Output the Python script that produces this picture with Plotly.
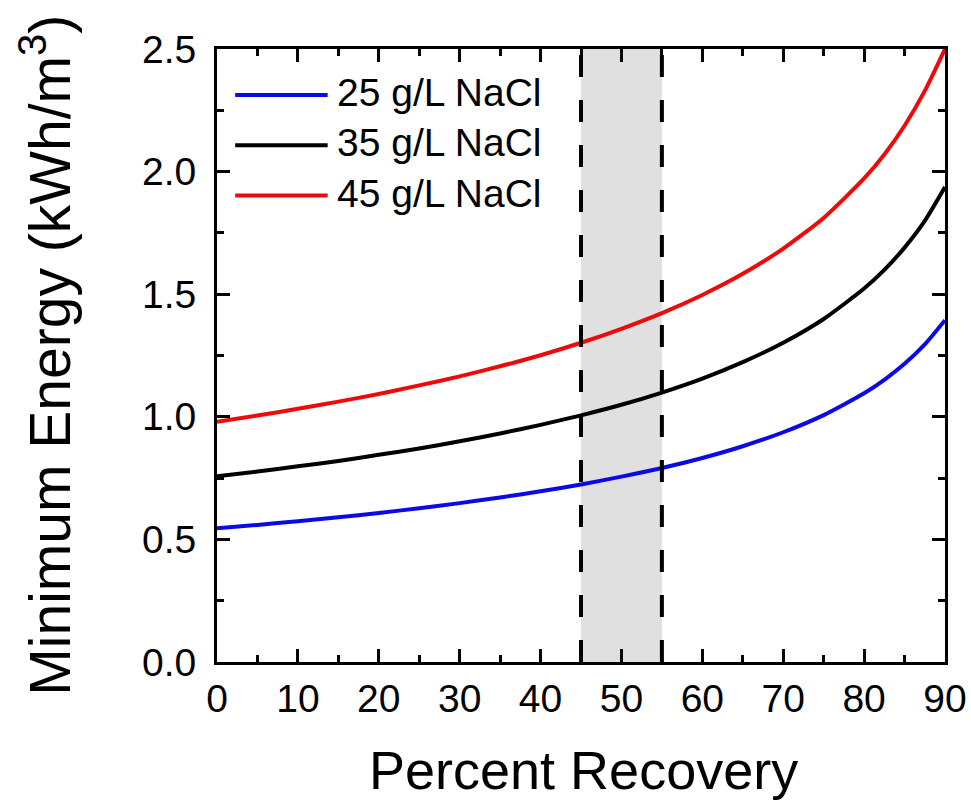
import plotly.graph_objects as go

# ---- data ----
recovery = [0, 5, 10, 15, 20, 25, 30, 35, 40, 45, 50, 55, 60, 65, 70, 75, 80, 82.5, 85, 87.5, 90]
energy_25 = [0.545, 0.559, 0.574, 0.590, 0.608, 0.627, 0.648, 0.671, 0.696, 0.724, 0.756,
             0.791, 0.832, 0.880, 0.937, 1.007, 1.096, 1.151, 1.216, 1.295, 1.394]
energy_35 = [0.757, 0.777, 0.798, 0.820, 0.845, 0.871, 0.900, 0.932, 0.967, 1.006, 1.049,
             1.099, 1.156, 1.223, 1.302, 1.399, 1.523, 1.599, 1.690, 1.799, 1.937]
energy_45 = [0.980, 1.005, 1.033, 1.062, 1.093, 1.128, 1.165, 1.206, 1.251, 1.302, 1.359,
             1.423, 1.497, 1.583, 1.686, 1.811, 1.972, 2.070, 2.187, 2.329, 2.500]
series_names = ["25 g/L NaCl", "35 g/L NaCl", "45 g/L NaCl"]
series_colors = ["#0a0ae6", "#000000", "#ee0a0a"]
region_start = 45
region_end = 55
x_ticks = [0, 10, 20, 30, 40, 50, 60, 70, 80, 90]
y_ticks = [0.0, 0.5, 1.0, 1.5, 2.0, 2.5]

FONT = "Liberation Sans, Arial, sans-serif"

fig = go.Figure()

for name, vals, col in zip(series_names, [energy_25, energy_35, energy_45], series_colors):
    fig.add_trace(go.Scatter(x=recovery, y=vals, mode="lines", name=name,
                             line=dict(color=col, width=4, shape="spline", smoothing=0.6),
                             showlegend=False))

# shaded region and dashed boundaries
fig.add_shape(type="rect", xref="x", yref="y domain", x0=region_start, x1=region_end,
              y0=0, y1=1, fillcolor="#e0e0e0", line=dict(width=0), layer="below")
for xv in (region_start, region_end):
    fig.add_shape(type="line", xref="x", yref="y domain", x0=xv, x1=xv, y0=0, y1=1,
                  line=dict(color="black", width=4, dash="22px,23px"), layer="above")

# manual legend
leg_y = [0.925, 0.843, 0.761]
for name, col, yy in zip(series_names, series_colors, leg_y):
    fig.add_shape(type="line", xref="paper", yref="paper", x0=0.025, x1=0.152, y0=yy, y1=yy,
                  line=dict(color=col, width=4))
    fig.add_annotation(xref="paper", yref="paper", x=0.162, y=yy + 0.004, text=name,
                       showarrow=False, xanchor="left", yanchor="middle",
                       font=dict(family=FONT, size=39, color="black"))

# axis titles
fig.add_annotation(xref="paper", yref="paper", x=-0.236, y=0.5,
                   text="Minimum Energy (kWh/m<sup>3</sup>)", textangle=-90,
                   showarrow=False, xanchor="center", yanchor="middle",
                   font=dict(family=FONT, size=57, color="black"))
fig.add_annotation(xref="paper", yref="paper", x=0.504, y=-0.176,
                   text="Percent Recovery", showarrow=False,
                   xanchor="center", yanchor="middle",
                   font=dict(family=FONT, size=54, color="black"))

axis_common = dict(showline=True, linewidth=3, linecolor="black", mirror="ticks",
                   ticks="inside", ticklen=13, tickwidth=3, tickcolor="black",
                   showgrid=False, zeroline=False, automargin=False,
                   tickfont=dict(family=FONT, size=39, color="black"))

fig.update_xaxes(range=[0, 90], tickvals=x_ticks, ticklabelstandoff=0,
                 minor=dict(ticks="inside", ticklen=7, tickwidth=3, tickcolor="black", dtick=5),
                 **axis_common)
fig.update_yaxes(range=[0, 2.5], tickvals=y_ticks, tickformat=".1f", ticklabelstandoff=10,
                 minor=dict(ticks="inside", ticklen=7, tickwidth=3, tickcolor="black", dtick=0.25),
                 **axis_common)

fig.update_layout(width=971, height=806, margin=dict(l=217, r=26, t=49, b=144, autoexpand=False),
                  paper_bgcolor="white", plot_bgcolor="white", showlegend=False)

fig.write_html("out.html")
